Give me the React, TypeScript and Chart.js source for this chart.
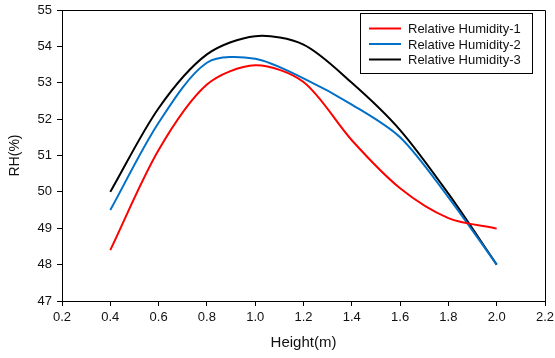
import React, { useEffect, useRef } from 'react';
import { Chart, registerables } from 'chart.js';

Chart.register(...registerables);

const heights = [0.4, 0.6, 0.8, 1.0, 1.2, 1.4, 1.6, 1.8, 2.0];
const rh1 = [48.4, 51.15, 52.95, 53.48, 53.02, 51.42, 50.1, 49.28, 48.99];
const rh2 = [49.5, 51.9, 53.55, 53.66, 53.12, 52.4, 51.5, 49.85, 48.0];
const rh3 = [50.0, 52.3, 53.78, 54.28, 54.05, 53.0, 51.7, 49.95, 48.0];
const seriesLabels = ['Relative Humidity-1', 'Relative Humidity-2', 'Relative Humidity-3'];
const seriesColors = ['#ff0000', '#0070c8', '#000000'];
const FONT = 'Liberation Sans, Arial, sans-serif';

const framePlugin = {
  id: 'frame',
  afterDraw(chart: any) {
    const { ctx, chartArea } = chart;
    const { left, right, top, bottom } = chartArea;
    ctx.save();
    ctx.strokeStyle = '#000';
    ctx.lineWidth = 1;
    ctx.beginPath();
    ctx.moveTo(left, top + 0.5);
    ctx.lineTo(right + 0.5, top + 0.5);
    ctx.lineTo(right + 0.5, bottom);
    ctx.stroke();

    // legend box
    const bw = 172;
    const bh = 60;
    const bx = right - 13 - bw;
    const by = top + 3;
    ctx.fillStyle = '#fff';
    ctx.fillRect(bx, by, bw, bh);
    ctx.strokeRect(bx + 0.5, by + 0.5, bw, bh);
    ctx.font = '13px ' + FONT;
    ctx.textBaseline = 'middle';
    chart.data.datasets.forEach((ds: any, i: number) => {
      const y = by + 15.5 + i * 15.5;
      ctx.strokeStyle = ds.borderColor;
      ctx.lineWidth = 2;
      ctx.beginPath();
      ctx.moveTo(bx + 9, y);
      ctx.lineTo(bx + 41, y);
      ctx.stroke();
      ctx.fillStyle = '#111';
      ctx.fillText(ds.label, bx + 48, y + 1);
    });
    ctx.restore();
  },
};

export default function App() {
  const ref = useRef<HTMLCanvasElement>(null);
  useEffect(() => {
    const series = [rh1, rh2, rh3];
    const chart = new Chart(ref.current as HTMLCanvasElement, {
      type: 'line',
      data: {
        datasets: series.map((s, i) => ({
          label: seriesLabels[i],
          data: heights.map((h, j) => ({ x: h, y: s[j] })),
          borderColor: seriesColors[i],
          backgroundColor: seriesColors[i],
          borderWidth: 2,
          pointRadius: 0,
          tension: 0.3,
          fill: false,
        })),
      },
      options: {
        animation: false,
        responsive: false,
        layout: { padding: { top: 10, right: 10, left: 0, bottom: 0 } },
        plugins: { legend: { display: false }, tooltip: { enabled: false } },
        scales: {
          x: {
            type: 'linear',
            min: 0.2,
            max: 2.2,
            afterFit: (s: any) => { s.height = 57; s.paddingLeft = 0; s.paddingRight = 0; },
            ticks: {
              stepSize: 0.2,
              color: '#111',
              font: { family: FONT, size: 13 },
              padding: 4,
              callback: (v: any) => Number(v).toFixed(1),
            },
            grid: { drawOnChartArea: false, drawTicks: true, tickLength: 5, color: '#000' },
            border: { display: true, color: '#000', width: 1 },
            title: {
              display: true,
              text: 'Height(m)',
              color: '#111',
              font: { family: FONT, size: 15 },
              padding: { top: 0, bottom: 6 },
            },
          },
          y: {
            min: 47,
            max: 55,
            afterFit: (s: any) => { s.width = 62; s.paddingTop = 0; s.paddingBottom = 0; },
            ticks: {
              stepSize: 1,
              color: '#111',
              font: { family: FONT, size: 13 },
              padding: 5,
            },
            grid: { drawOnChartArea: false, drawTicks: true, tickLength: 5, color: '#000' },
            border: { display: true, color: '#000', width: 1 },
            title: {
              display: true,
              text: 'RH(%)',
              color: '#111',
              font: { family: FONT, size: 14 },
              padding: { top: 7, bottom: 0 },
            },
          },
        },
      },
      plugins: [framePlugin],
    });
    return () => chart.destroy();
  }, []);
  return (
    <div style={{ position: 'fixed', left: 0, top: 0, width: 555, height: 358, background: '#fff' }}>
      <canvas ref={ref} width={555} height={358} />
    </div>
  );
}
